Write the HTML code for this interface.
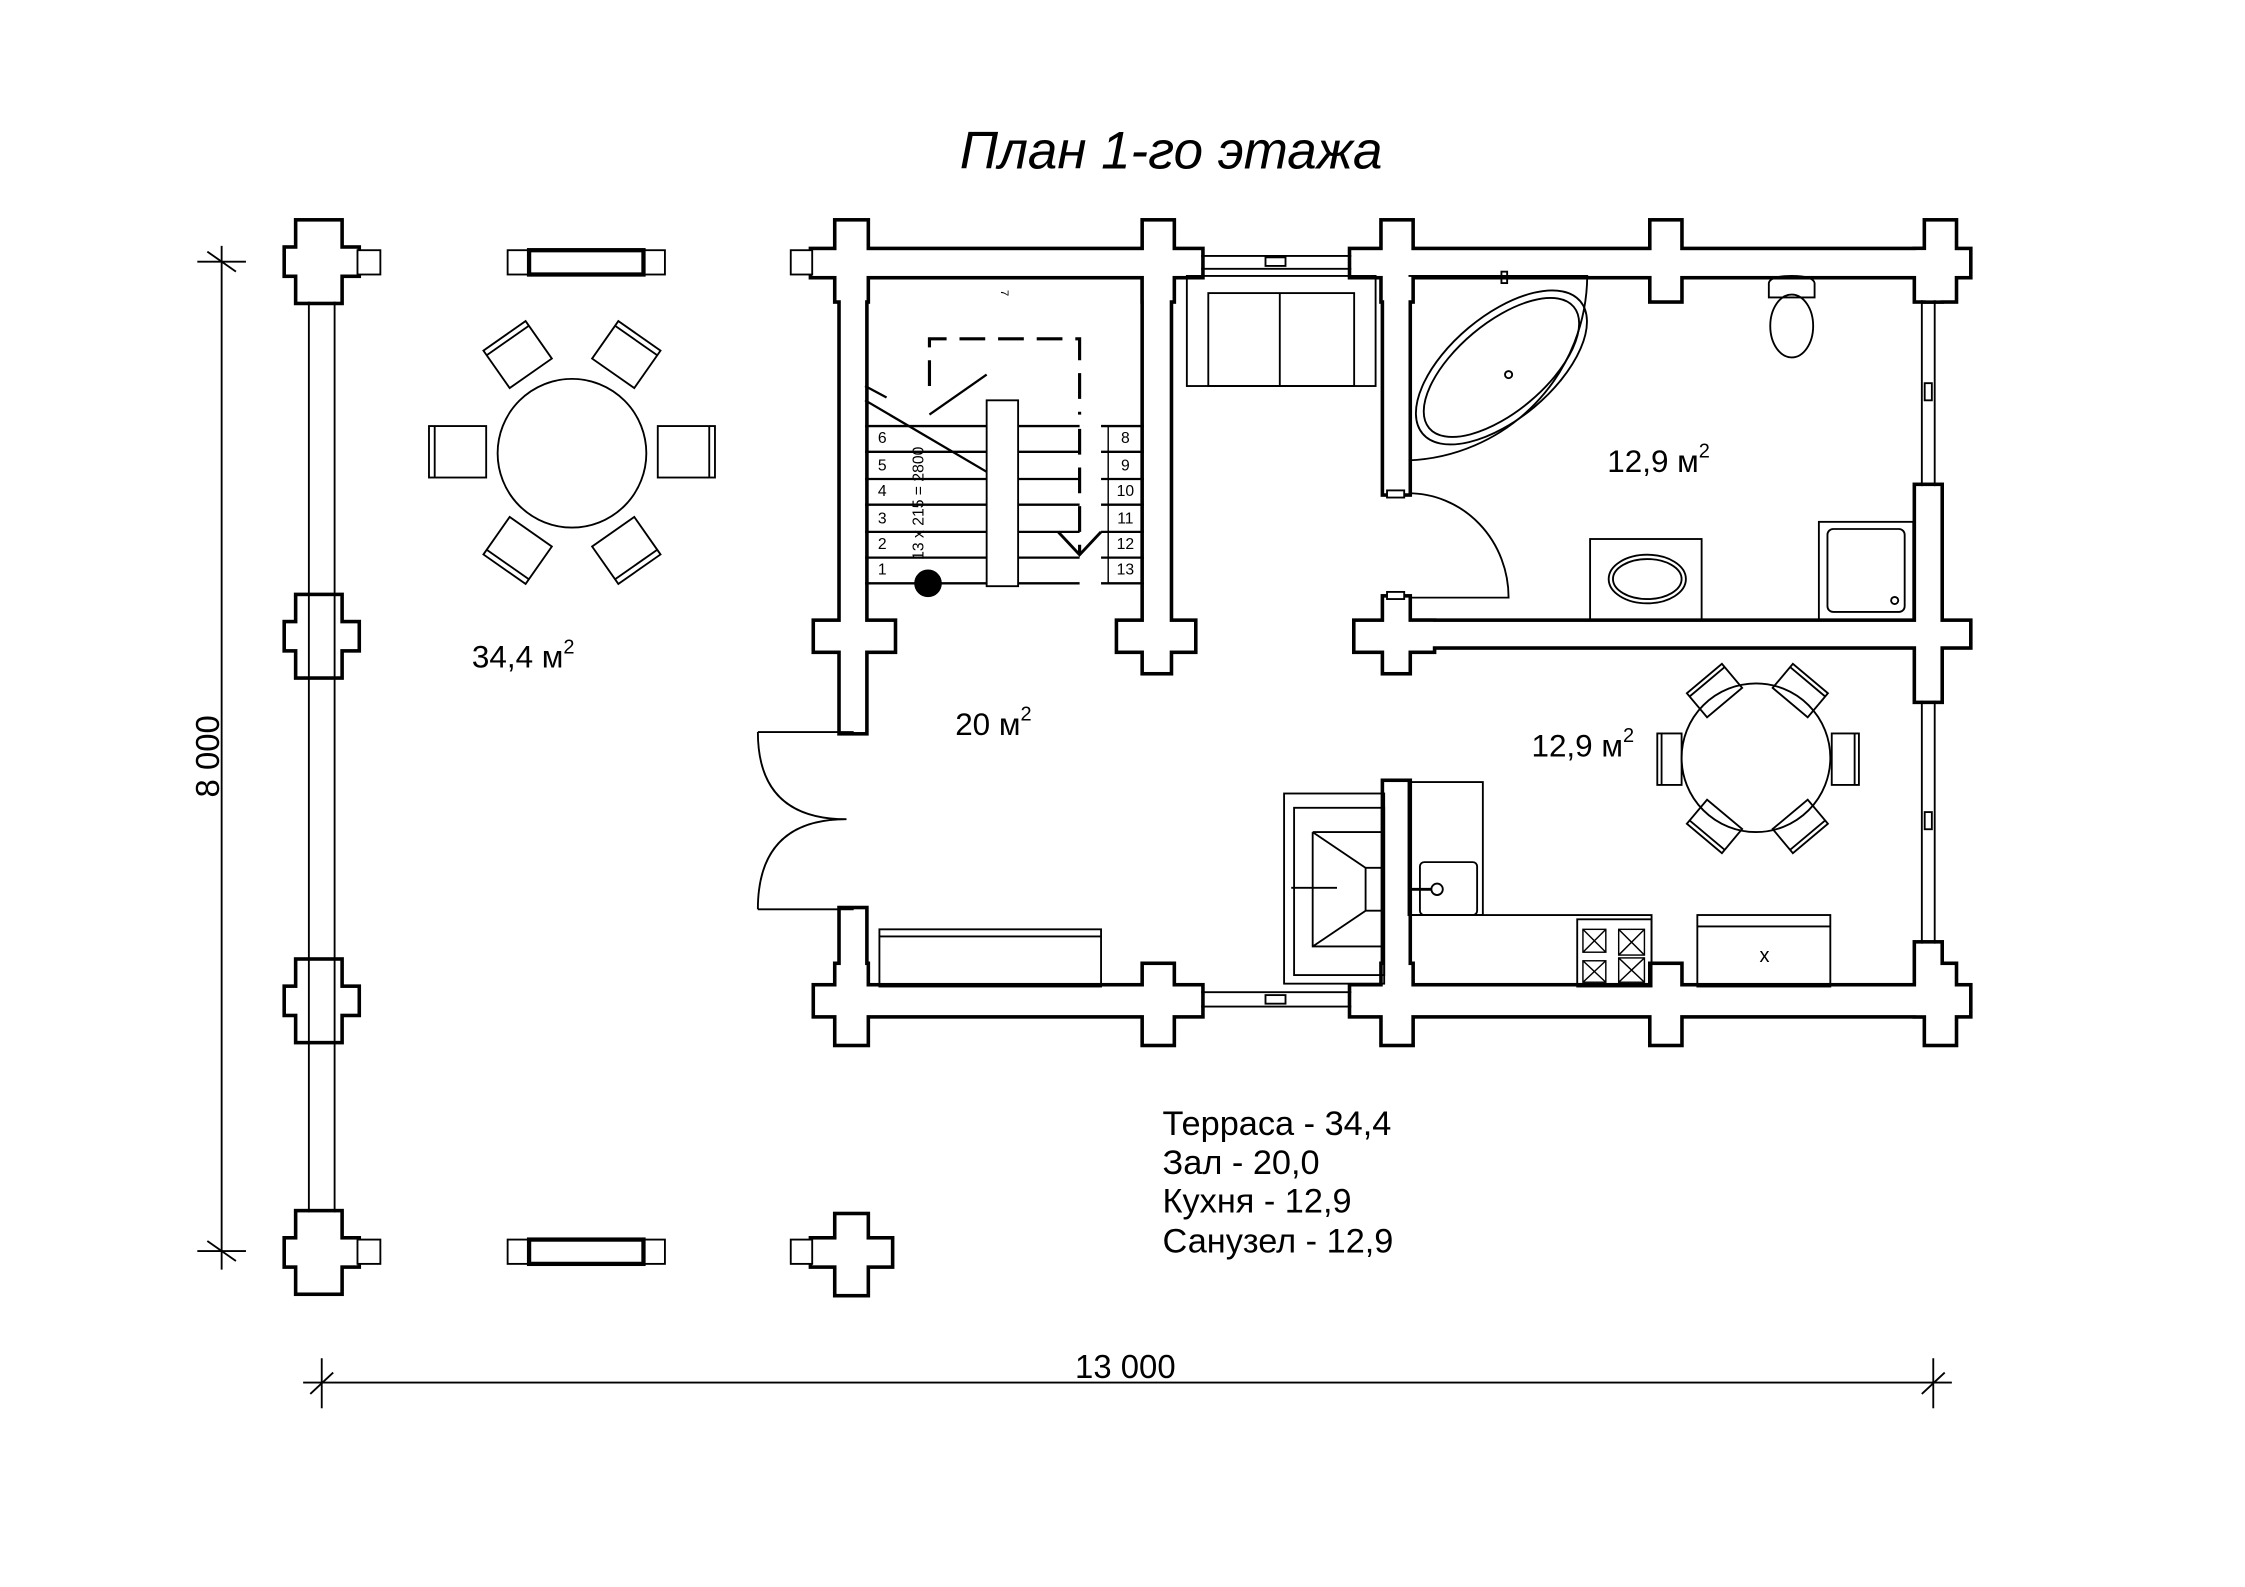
<!DOCTYPE html>
<html><head><meta charset="utf-8"><style>html,body{margin:0;padding:0;background:#fff}svg{display:block}text{font-family:"Liberation Sans",sans-serif;fill:#000}</style></head><body>
<svg width="2245" height="1587" viewBox="0 0 1570 1110" preserveAspectRatio="none" xmlns="http://www.w3.org/2000/svg">
<defs>
<g id="w">
<rect x="568" y="175" width="272" height="18"/><rect x="945" y="175" width="432" height="18"/>
<rect x="585" y="155" width="21" height="55"/><rect x="800" y="155" width="20" height="55"/><rect x="967" y="155" width="20" height="55"/><rect x="1155" y="155" width="20" height="55"/><rect x="1347" y="155" width="20" height="55"/>
<rect x="588" y="175" width="17" height="337"/><rect x="588" y="636" width="17" height="74"/>
<rect x="570" y="435" width="55" height="20"/>
<rect x="570" y="690" width="270" height="20"/><rect x="945" y="690" width="432" height="20"/>
<rect x="585" y="675" width="21" height="55"/><rect x="800" y="675" width="20" height="55"/><rect x="967" y="675" width="20" height="55"/><rect x="1155" y="675" width="20" height="55"/><rect x="1347" y="675" width="20" height="55"/>
<rect x="800" y="175" width="18" height="295"/><rect x="782" y="435" width="53" height="20"/>
<rect x="968" y="175" width="17" height="170"/><rect x="968" y="418" width="17" height="52"/><rect x="948" y="435" width="54" height="20"/>
<rect x="985" y="435" width="392" height="17"/>
<rect x="1340" y="175" width="17" height="35"/><rect x="1340" y="340" width="17" height="150"/><rect x="1340" y="660" width="17" height="50"/>
<rect x="968" y="547" width="17" height="143"/>
<rect x="208" y="155" width="30" height="56"/><rect x="200" y="174" width="50" height="18"/>
<rect x="208" y="417" width="30" height="56"/><rect x="200" y="436" width="50" height="18"/>
<rect x="208" y="672" width="30" height="56"/><rect x="200" y="691" width="50" height="18"/>
<rect x="208" y="848" width="30" height="56"/><rect x="200" y="867" width="50" height="18"/>
<rect x="585" y="850" width="21" height="55"/><rect x="568" y="867" width="55" height="18"/>
</g>
</defs>
<use href="#w" fill="#000" stroke="#000" stroke-width="5"/>
<use href="#w" fill="#fff"/>
<g fill="none" stroke="#000" stroke-width="1.3">
<line x1="216" y1="211" x2="216" y2="848"/><line x1="234" y1="211" x2="234" y2="848"/>
<rect x="250" y="175" width="16" height="17" fill="#fff"/><rect x="250" y="867" width="16" height="17" fill="#fff"/>
<rect x="553" y="175" width="15" height="17" fill="#fff"/><rect x="553" y="867" width="15" height="17" fill="#fff"/>
<rect x="355" y="175" width="110" height="17"/><rect x="370" y="175" width="80" height="17" stroke-width="3"/>
<rect x="355" y="867" width="110" height="17"/><rect x="370" y="867" width="80" height="17" stroke-width="3"/>
<circle cx="400" cy="317" r="52"/>
<rect x="300" y="298" width="40" height="36"/><line x1="304" y1="298" x2="304" y2="334"/>
<rect x="460" y="298" width="40" height="36"/><line x1="496" y1="298" x2="496" y2="334"/>
<g transform="translate(362,248) rotate(-35)"><rect x="-18" y="-16" width="36" height="32"/><line x1="-18" y1="-12" x2="18" y2="-12"/></g>
<g transform="translate(438,248) rotate(35)"><rect x="-18" y="-16" width="36" height="32"/><line x1="-18" y1="-12" x2="18" y2="-12"/></g>
<g transform="translate(362,385) rotate(35)"><rect x="-18" y="-16" width="36" height="32"/><line x1="-18" y1="12" x2="18" y2="12"/></g>
<g transform="translate(438,385) rotate(-35)"><rect x="-18" y="-16" width="36" height="32"/><line x1="-18" y1="12" x2="18" y2="12"/></g>
<line x1="840" y1="179" x2="945" y2="179"/><line x1="840" y1="188" x2="945" y2="188"/><rect x="885" y="180" width="14" height="6"/>
<line x1="840" y1="694" x2="945" y2="694"/><line x1="840" y1="704" x2="945" y2="704"/><rect x="885" y="696" width="14" height="6"/>
<line x1="1344" y1="210" x2="1344" y2="340"/><line x1="1353" y1="210" x2="1353" y2="340"/><rect x="1346" y="268" width="5" height="12"/>
<line x1="1344" y1="490" x2="1344" y2="660"/><line x1="1353" y1="490" x2="1353" y2="660"/><rect x="1346" y="568" width="5" height="12"/>
<line x1="530" y1="512" x2="597" y2="512"/><line x1="530" y1="636" x2="597" y2="636"/>
<path d="M530,512 Q530,573 592,573 Q530,573 530,636"/>
<rect x="690" y="280" width="22" height="130" fill="#fff"/>
<g stroke-width="1.6">
<line x1="605" y1="298" x2="690" y2="298"/><line x1="605" y1="316" x2="690" y2="316"/><line x1="605" y1="335" x2="690" y2="335"/><line x1="605" y1="353" x2="690" y2="353"/><line x1="605" y1="372" x2="690" y2="372"/><line x1="605" y1="390" x2="690" y2="390"/><line x1="605" y1="408" x2="690" y2="408"/>
<line x1="712" y1="298" x2="755" y2="298"/><line x1="712" y1="316" x2="755" y2="316"/><line x1="712" y1="335" x2="755" y2="335"/><line x1="712" y1="353" x2="755" y2="353"/><line x1="712" y1="372" x2="755" y2="372"/><line x1="712" y1="390" x2="755" y2="390"/><line x1="712" y1="408" x2="755" y2="408"/>
<line x1="770" y1="298" x2="800" y2="298"/><line x1="770" y1="316" x2="800" y2="316"/><line x1="770" y1="335" x2="800" y2="335"/><line x1="770" y1="353" x2="800" y2="353"/><line x1="770" y1="372" x2="800" y2="372"/><line x1="770" y1="390" x2="800" y2="390"/><line x1="770" y1="408" x2="800" y2="408"/>
<line x1="775" y1="298" x2="775" y2="408" stroke-width="1"/>
<line x1="605" y1="280" x2="690" y2="330"/><line x1="605" y1="270" x2="620" y2="278"/>
<path d="M650,290 L690,262"/>
<path d="M650,270 V237 H755 V290 M755,300 V388" stroke-dasharray="18,9" stroke-width="2.2"/>
<path d="M740,372 L755,388 L770,372" stroke-width="2"/>
</g>
<circle cx="649" cy="408" r="9" fill="#000"/>
<rect x="830" y="193" width="132" height="77"/><rect x="845" y="205" width="102" height="65"/><line x1="895" y1="205" x2="895" y2="270"/>
<path d="M985,193 H1110 A130,130 0 0 1 985,322"/>
<ellipse cx="1050" cy="257" rx="72" ry="36" transform="rotate(-40 1050 257)"/>
<ellipse cx="1050" cy="257" rx="66" ry="31" transform="rotate(-40 1050 257)"/>
<circle cx="1055" cy="262" r="2.5"/><rect x="1050" y="190" width="4" height="8"/>
<path d="M1237,198 Q1238,193 1253,193 Q1268,193 1269,198 V208 H1237 Z"/>
<ellipse cx="1253" cy="228" rx="15" ry="22"/>
<path d="M985,345 A70,73 0 0 1 1055,418 H985"/>
<rect x="970" y="343" width="12" height="5" fill="#fff"/><rect x="970" y="414" width="12" height="5" fill="#fff"/>
<rect x="1112" y="377" width="78" height="57"/><ellipse cx="1152" cy="405" rx="27" ry="17"/><ellipse cx="1152" cy="405" rx="24" ry="14"/>
<rect x="1272" y="365" width="66" height="69"/><rect x="1278" y="370" width="54" height="58" rx="4"/><circle cx="1325" cy="420" r="2.5"/>
<circle cx="1228" cy="530" r="52"/>
<rect x="1159" y="513" width="17" height="36"/><line x1="1162" y1="513" x2="1162" y2="549"/>
<rect x="1281" y="513" width="19" height="36"/><line x1="1297" y1="513" x2="1297" y2="549"/>
<g transform="translate(1199,483) rotate(-40)"><rect x="-16" y="-11" width="32" height="22"/><line x1="-16" y1="-8" x2="16" y2="-8"/></g>
<g transform="translate(1259,483) rotate(40)"><rect x="-16" y="-11" width="32" height="22"/><line x1="-16" y1="-8" x2="16" y2="-8"/></g>
<g transform="translate(1199,578) rotate(40)"><rect x="-16" y="-11" width="32" height="22"/><line x1="-16" y1="8" x2="16" y2="8"/></g>
<g transform="translate(1259,578) rotate(-40)"><rect x="-16" y="-11" width="32" height="22"/><line x1="-16" y1="8" x2="16" y2="8"/></g>
<rect x="898" y="555" width="70" height="133"/><rect x="905" y="565" width="63" height="117"/>
<path d="M918,582 H968 M918,582 V662 H968 M918,582 L955,607 V637 L918,662 M955,607 H968 M955,637 H968"/>
<line x1="903" y1="621" x2="935" y2="621"/>
<rect x="985" y="547" width="52" height="93"/><rect x="993" y="603" width="40" height="37" rx="3"/><circle cx="1005" cy="622" r="4"/><line x1="985" y1="622" x2="1001" y2="622" stroke-width="2"/>
<path d="M985,640 H1155 V690"/>
<rect x="1103" y="643" width="52" height="47"/>
<g stroke-width="1"><rect x="1107" y="650" width="16" height="16"/><rect x="1132" y="650" width="18" height="18"/><rect x="1107" y="672" width="16" height="15"/><rect x="1132" y="670" width="18" height="17"/>
<path d="M1107,650 L1123,666 M1123,650 L1107,666 M1132,650 L1150,668 M1150,650 L1132,668 M1107,672 L1123,687 M1123,672 L1107,687 M1132,670 L1150,687 M1150,670 L1132,687"/></g>
<rect x="1187" y="640" width="93" height="50"/><line x1="1187" y1="648" x2="1280" y2="648"/>
<rect x="615" y="650" width="155" height="40"/><line x1="615" y1="655" x2="770" y2="655"/>
<line x1="155" y1="172" x2="155" y2="888"/><line x1="138" y1="183" x2="172" y2="183"/><line x1="138" y1="875" x2="172" y2="875"/>
<line x1="145" y1="176" x2="165" y2="190"/><line x1="145" y1="868" x2="165" y2="882"/>
<line x1="212" y1="967" x2="1365" y2="967"/><line x1="225" y1="950" x2="225" y2="985"/><line x1="1352" y1="950" x2="1352" y2="985"/>
<line x1="217" y1="975" x2="233" y2="960"/><line x1="1344" y1="975" x2="1360" y2="960"/>
</g>
<g font-size="11" text-anchor="middle">
<text x="617" y="310">6</text><text x="617" y="329">5</text><text x="617" y="347">4</text><text x="617" y="366">3</text><text x="617" y="384">2</text><text x="617" y="402">1</text>
<text x="787" y="310">8</text><text x="787" y="329">9</text><text x="787" y="347">10</text><text x="787" y="366">11</text><text x="787" y="384">12</text><text x="787" y="402">13</text>
<text x="703" y="208" font-size="8" transform="rotate(90 703 205)">7</text>
<text x="0" y="0" font-size="11" transform="translate(646,352) rotate(-90)">13 x 215 = 2800</text>
<text x="1234" y="673" font-size="14">x</text>
</g>
<text x="819" y="118" font-size="37" font-style="italic" text-anchor="middle">План 1-го этажа</text>
<text x="330" y="467" font-size="22">34,4 м<tspan font-size="14" dy="-10">2</tspan></text>
<text x="668" y="514" font-size="22">20 м<tspan font-size="14" dy="-10">2</tspan></text>
<text x="1124" y="330" font-size="22">12,9 м<tspan font-size="14" dy="-10">2</tspan></text>
<text x="1071" y="529" font-size="22">12,9 м<tspan font-size="14" dy="-10">2</tspan></text>
<text x="0" y="0" font-size="23" text-anchor="middle" transform="translate(153,529) rotate(-90)">8 000</text>
<text x="787" y="964" font-size="23" text-anchor="middle">13 000</text>
<g font-size="24"><text x="813" y="794">Терраса - 34,4</text><text x="813" y="821">Зал - 20,0</text><text x="813" y="848">Кухня - 12,9</text><text x="813" y="876">Санузел - 12,9</text></g>
</svg>
</body></html>
